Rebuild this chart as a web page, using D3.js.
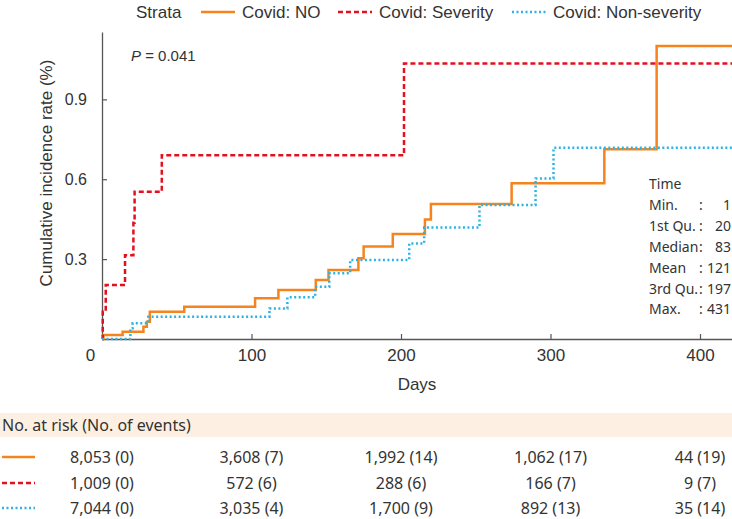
<!DOCTYPE html>
<html>
<head>
<meta charset="utf-8">
<script src="https://cdn.jsdelivr.net/npm/d3@7"></script>
<style>
  body { margin: 0; background: #fff; }
  svg { display: block; }
</style>
</head>
<body>
<script>
// step points [day, cumulative incidence %]
const covidNo = [[0,0],[1,0.015],[13.8,0.027],[27.7,0.046],[30,0.065],[32,0.102],[55,0.121],[102.4,0.153],[118,0.184],[143,0.222],[151.5,0.259],[171.5,0.303],[175,0.347],[194.5,0.394],[216,0.449],[220,0.507],[274,0.585],[336,0.713],[371,1.100],[422,1.100]];
const covidSevere = [[0,0],[0.5,0.102],[2.5,0.203],[15.4,0.315],[21,0.437],[21.8,0.553],[40,0.690],[202,1.035],[422,1.035]];
const covidNonSevere = [[0,0],[19,0.040],[20.5,0.059],[31,0.084],[112,0.115],[124,0.157],[142.6,0.196],[152,0.247],[166,0.297],[205.5,0.359],[215.5,0.419],[252.5,0.503],[290,0.603],[302,0.718],[422,0.718]];

const strataNames = ["Covid: NO", "Covid: Severity", "Covid: Non-severity"];
const xTicks = [0, 100, 200, 300, 400];
const yTicks = [0.3, 0.6, 0.9];

const timeLabels = ["Min.", "1st Qu.", "Median", "Mean", "3rd Qu.", "Max."];
const timeValues = [1, 20, 83, 121, 197, 431];

const riskTimes = [0, 100, 200, 300, 400];
const riskNo = ["8,053 (0)", "3,608 (7)", "1,992 (14)", "1,062 (17)", "44 (19)"];
const riskSevere = ["1,009 (0)", "572 (6)", "288 (6)", "166 (7)", "9 (7)"];
const riskNonSevere = ["7,044 (0)", "3,035 (4)", "1,700 (9)", "892 (13)", "35 (14)"];

const w = 732, h = 519;
const styles = [
  {color: "#f5841f", dash: null},
  {color: "#e3101e", dash: "5,3"},
  {color: "#2bb4e2", dash: "2,2.5"}
];

const svg = d3.select("body").append("svg")
  .attr("width", w).attr("height", h);

const xScale = d3.scaleLinear().domain([0, 421.4]).range([102, 732]);
const yScale = d3.scaleLinear().domain([0, 1.153]).range([339, 32]);

// legend
const lg = svg.append("g").style("font-family", "'Liberation Sans', Arial, sans-serif").style("font-size", "17px").attr("fill", "#333");
lg.append("text").attr("x", 136).attr("y", 12).attr("dy", "0.35em").text("Strata");
const legX = [201, 338, 512];
strataNames.forEach((s, i) => {
  lg.append("line").attr("x1", legX[i]).attr("x2", legX[i] + 34).attr("y1", 12).attr("y2", 12)
    .attr("stroke", styles[i].color).attr("stroke-width", 2.5).attr("stroke-dasharray", styles[i].dash);
  lg.append("text").attr("x", legX[i] + 41).attr("y", 12).attr("dy", "0.35em").text(s);
});

// axes
const xAxis = d3.axisBottom(xScale).tickValues(xTicks).tickSizeInner(-5).tickSizeOuter(0).tickPadding(10);
const gx = svg.append("g").attr("transform", "translate(0,339)").call(xAxis);
const yAxis = d3.axisLeft(yScale).tickValues(yTicks).tickSizeInner(-5).tickSizeOuter(0).tickPadding(15).tickFormat(d3.format(".1f"));
const gy = svg.append("g").attr("transform", "translate(102,0)").call(yAxis);
[gx, gy].forEach(g => {
  g.select(".domain").attr("stroke", "#555").attr("stroke-width", 1.3);
  g.selectAll(".tick line").attr("stroke", "#555").attr("stroke-width", 1.2);
  g.selectAll("text").attr("fill", "#333").style("font-family", "'Liberation Sans', Arial, sans-serif");
});
gx.selectAll("text").style("font-size", "17px");
gx.selectAll(".tick").filter(d => d === 0).select("text").attr("dx", -12);
gy.selectAll("text").style("font-size", "16px");

svg.append("text").attr("x", 417).attr("y", 384).attr("dy", "0.35em").attr("text-anchor", "middle")
  .style("font-family", "'Liberation Sans', Arial, sans-serif").style("font-size", "17px").attr("fill", "#333").text("Days");
svg.append("text").attr("transform", "translate(46,173) rotate(-90)").attr("dy", "0.35em").attr("text-anchor", "middle")
  .style("font-family", "'Liberation Sans', Arial, sans-serif").style("font-size", "17px").attr("fill", "#333").text("Cumulative incidence rate (%)");

// curves
const line = d3.line().x(d => xScale(d[0])).y(d => yScale(d[1])).curve(d3.curveStepAfter);
[covidNo, covidSevere, covidNonSevere].forEach((data, i) => {
  svg.append("path").datum(data).attr("d", line).attr("fill", "none")
    .attr("stroke", styles[i].color).attr("stroke-width", 2.5).attr("stroke-dasharray", styles[i].dash);
});

// p value
const pt = svg.append("text").attr("x", 131).attr("y", 56).attr("dy", "0.35em")
  .style("font-family", "'Liberation Sans', Arial, sans-serif").style("font-size", "15px").attr("fill", "#333");
pt.append("tspan").style("font-style", "italic").text("P");
pt.append("tspan").text(" = 0.041");

// time summary
const tg = svg.append("g").style("font-family", "'Noto Sans', sans-serif").style("font-size", "14px").attr("fill", "#333");
tg.append("text").attr("x", 649).attr("y", 184).attr("dy", "0.35em").text("Time");
timeLabels.forEach((t, i) => {
  const yy = 205 + i * 20.9;
  tg.append("text").attr("x", 649).attr("y", yy).attr("dy", "0.35em").text(t);
  tg.append("text").attr("x", 701).attr("y", yy).attr("dy", "0.35em").attr("text-anchor", "middle").text(":");
  tg.append("text").attr("x", 731).attr("y", yy).attr("dy", "0.35em").attr("text-anchor", "end").text(timeValues[i]);
});

// risk table
svg.append("rect").attr("x", 0).attr("y", 413).attr("width", w).attr("height", 24).attr("fill", "#fdf0e2");
const rg = svg.append("g").style("font-family", "'Noto Sans', sans-serif").style("font-size", "16px").attr("fill", "#333");
rg.append("text").attr("x", 2).attr("y", 425).attr("dy", "0.35em").text("No. at risk (No. of events)");
const rowY = [457, 483, 508];
[riskNo, riskSevere, riskNonSevere].forEach((row, i) => {
  rg.append("line").attr("x1", 2).attr("x2", 35).attr("y1", rowY[i]).attr("y2", rowY[i])
    .attr("stroke", styles[i].color).attr("stroke-width", 2.5).attr("stroke-dasharray", styles[i].dash);
  rg.selectAll(null).data(row).enter().append("text")
    .attr("x", (d, j) => xScale(riskTimes[j]))
    .attr("y", rowY[i]).attr("dy", "0.35em").attr("text-anchor", "middle")
    .text(d => d);
});
</script>
</body>
</html>
